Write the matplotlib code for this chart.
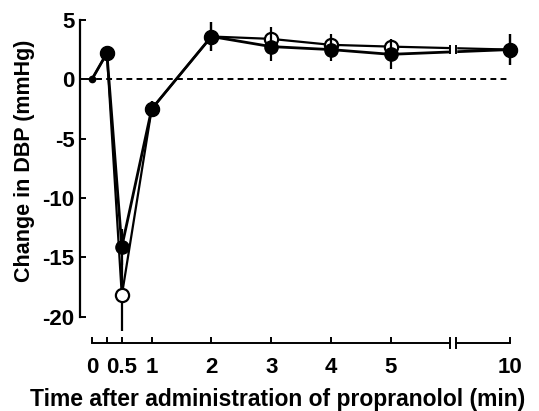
import matplotlib
matplotlib.use("Agg")
import matplotlib.pyplot as plt
import numpy as np

plt.rcParams['font.family'] = ['Liberation Sans', 'DejaVu Sans']
plt.rcParams['font.weight'] = 'bold'
plt.rcParams['axes.labelweight'] = 'bold'
plt.rcParams['axes.unicode_minus'] = False

# time after administration (min); 10 min is drawn after an axis break
times = np.array([0, 0.25, 0.5, 1, 2, 3, 4, 5, 10])
xpos = np.where(times > 5, times - 3, times)   # 10 -> position 7

# closed circles
dbp_closed = [0, 2.2, -14.1, -2.5, 3.6, 2.75, 2.5, 2.1, 2.5]
err_closed = [0, 0, 1.5, 0.7, 1.2, 1.25, 1.0, 1.2, 1.3]
# open circles
dbp_open = [0, 2.2, -18.2, -2.5, 3.6, 3.4, 2.9, 2.75, 2.5]
err_open = [0, 0, 3.0, 0.7, 1.2, 1.0, 0.9, 0.6, 1.3]

tick_pos = [0, 0.25, 0.5, 1, 2, 3, 4, 5, 7]
tick_lab = ['0', '', '0.5', '1', '2', '3', '4', '5', '10']
ytick = [5, 0, -5, -10, -15, -20]

fig = plt.figure(figsize=(5.39, 4.11), dpi=100)
ax = fig.add_axes([80/539, (411-343)/411, 448/539, 335/411])
ybot = -22.2
ax.set_xlim(-0.2, 7.3)
ax.set_ylim(ybot, 6.0)

# zero line
ax.plot([-0.1, 7.0], [0, 0], color='black', lw=1.4, ls=(0, (3, 2.2)), zorder=1)

# open series
ax.plot(xpos, dbp_open, color='black', lw=1.6, zorder=2)
ax.errorbar(xpos[1:], dbp_open[1:], yerr=err_open[1:], fmt='o', ms=9.5,
            mfc='white', mec='black', mew=1.6, ecolor='black', elinewidth=1.6,
            capsize=0, zorder=3)
# closed series
ax.plot(xpos, dbp_closed, color='black', lw=2.0, zorder=4)
ax.errorbar(xpos[1:], dbp_closed[1:], yerr=err_closed[1:], fmt='o', ms=9.5,
            mfc='black', mec='black', ecolor='black', elinewidth=1.6,
            capsize=0, zorder=5)
ax.plot(xpos[0], dbp_closed[0], 'o', color='black', ms=4.5, zorder=5)

# break in the data lines
b1, b2 = 6.0, 6.1
ax.fill_between([b1, b2], 1.0, 4.0, color='white', zorder=6)
for b in (b1, b2):
    ax.plot([b, b], [2.2, 2.8], color='black', lw=1.4, zorder=7)

# axes styling
for s in ('top', 'right', 'bottom'):
    ax.spines[s].set_visible(False)
ax.spines['left'].set_bounds(-20, 5)
ax.spines['left'].set_linewidth(1.6)

ax.plot([0, b1], [ybot, ybot], color='black', lw=1.4, clip_on=False)
ax.plot([b2, 7], [ybot, ybot], color='black', lw=1.4, clip_on=False)
for b in (b1, b2):
    ax.plot([b, b], [ybot - 0.45, ybot + 0.45], color='black', lw=1.4, clip_on=False)

ax.set_xticks(tick_pos)
ax.set_xticklabels(tick_lab)
ax.set_yticks(ytick)
ax.tick_params(axis='both', direction='in', length=4, width=1.4, labelsize=16)
ax.tick_params(axis='y', pad=4)
ax.tick_params(axis='x', pad=10)

ax.set_ylabel('Change in DBP (mmHg)', fontsize=15.5)
ax.yaxis.set_label_coords(-0.100, 0.543)
ax.set_xlabel('Time after administration of propranolol (min)', fontsize=16.5)
ax.xaxis.set_label_coords(0.442, -0.135)

fig.savefig('out.png', dpi=100)
